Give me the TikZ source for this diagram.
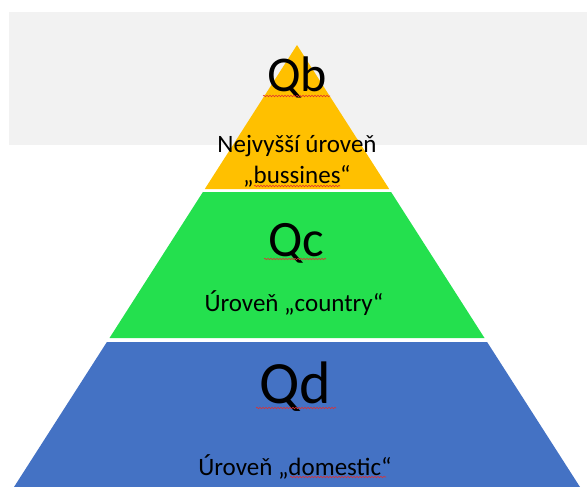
\documentclass[tikz,border=0pt]{standalone}
\usepackage{fontspec}
\setmainfont{Carlito}
\usetikzlibrary{decorations.pathmorphing}
\definecolor{bandgray}{HTML}{F2F2F2}
\definecolor{topfill}{HTML}{FFC000}
\definecolor{midfill}{HTML}{24E04E}
\definecolor{basefill}{HTML}{4472C4}
\definecolor{spellred}{HTML}{E03030}
\tikzset{
  bigtag/.style={anchor=base, inner sep=0pt, font=\fontsize{50}{50}\selectfont},
  hugetag/.style={anchor=base, inner sep=0pt, font=\fontsize{60}{60}\selectfont},
  caption/.style={anchor=base, inner sep=0pt, font=\fontsize{25}{30}\selectfont},
  squiggle/.style={spellred, line width=0.6pt,
    decorate, decoration={snake, amplitude=0.7pt, segment length=3pt}}
}
\begin{document}
\begin{tikzpicture}[x=1pt,y=-1pt]
\useasboundingbox (0,0) rectangle (587,487);
% grey band behind the top of the pyramid
\fill[bandgray] (9,12) rectangle (587,145);
% pyramid tiers
\fill[topfill]  (297,45) -- (389.2,189) -- (204.8,189) -- cycle;
\fill[midfill]  (202.9,192) -- (391.1,192) -- (484.5,338) -- (109.5,338) -- cycle;
\fill[basefill] (106.9,342) -- (487.1,342) -- (580,487) -- (14,487) -- cycle;
% labels
\node[bigtag]  (qb) at (297,92) {Qb};
\node[caption] (nb1) at (297,153) {Nejvyšší úroveň};
\node[caption] (nb2) at (297,183) {„bussines“};
\node[bigtag, font=\fontsize{51}{51}\selectfont] (qc) at (296,256) {Qc};
\node[caption] (nc) at (294,311) {Úroveň „country“};
\node[hugetag] (qd) at (295,403) {Qd};
\node[caption] (nd) at (295,475) {Úroveň „domestic“};
% spell-check marks
\draw[squiggle] (263,96) -- (330,96);
\draw[squiggle] (254,186) -- (340,186);
\draw[squiggle] (264,259) -- (326,259);
\draw[squiggle] (256,408) -- (336,408);
\draw[squiggle] (290,477) -- (386,477);
\end{tikzpicture}
\end{document}
